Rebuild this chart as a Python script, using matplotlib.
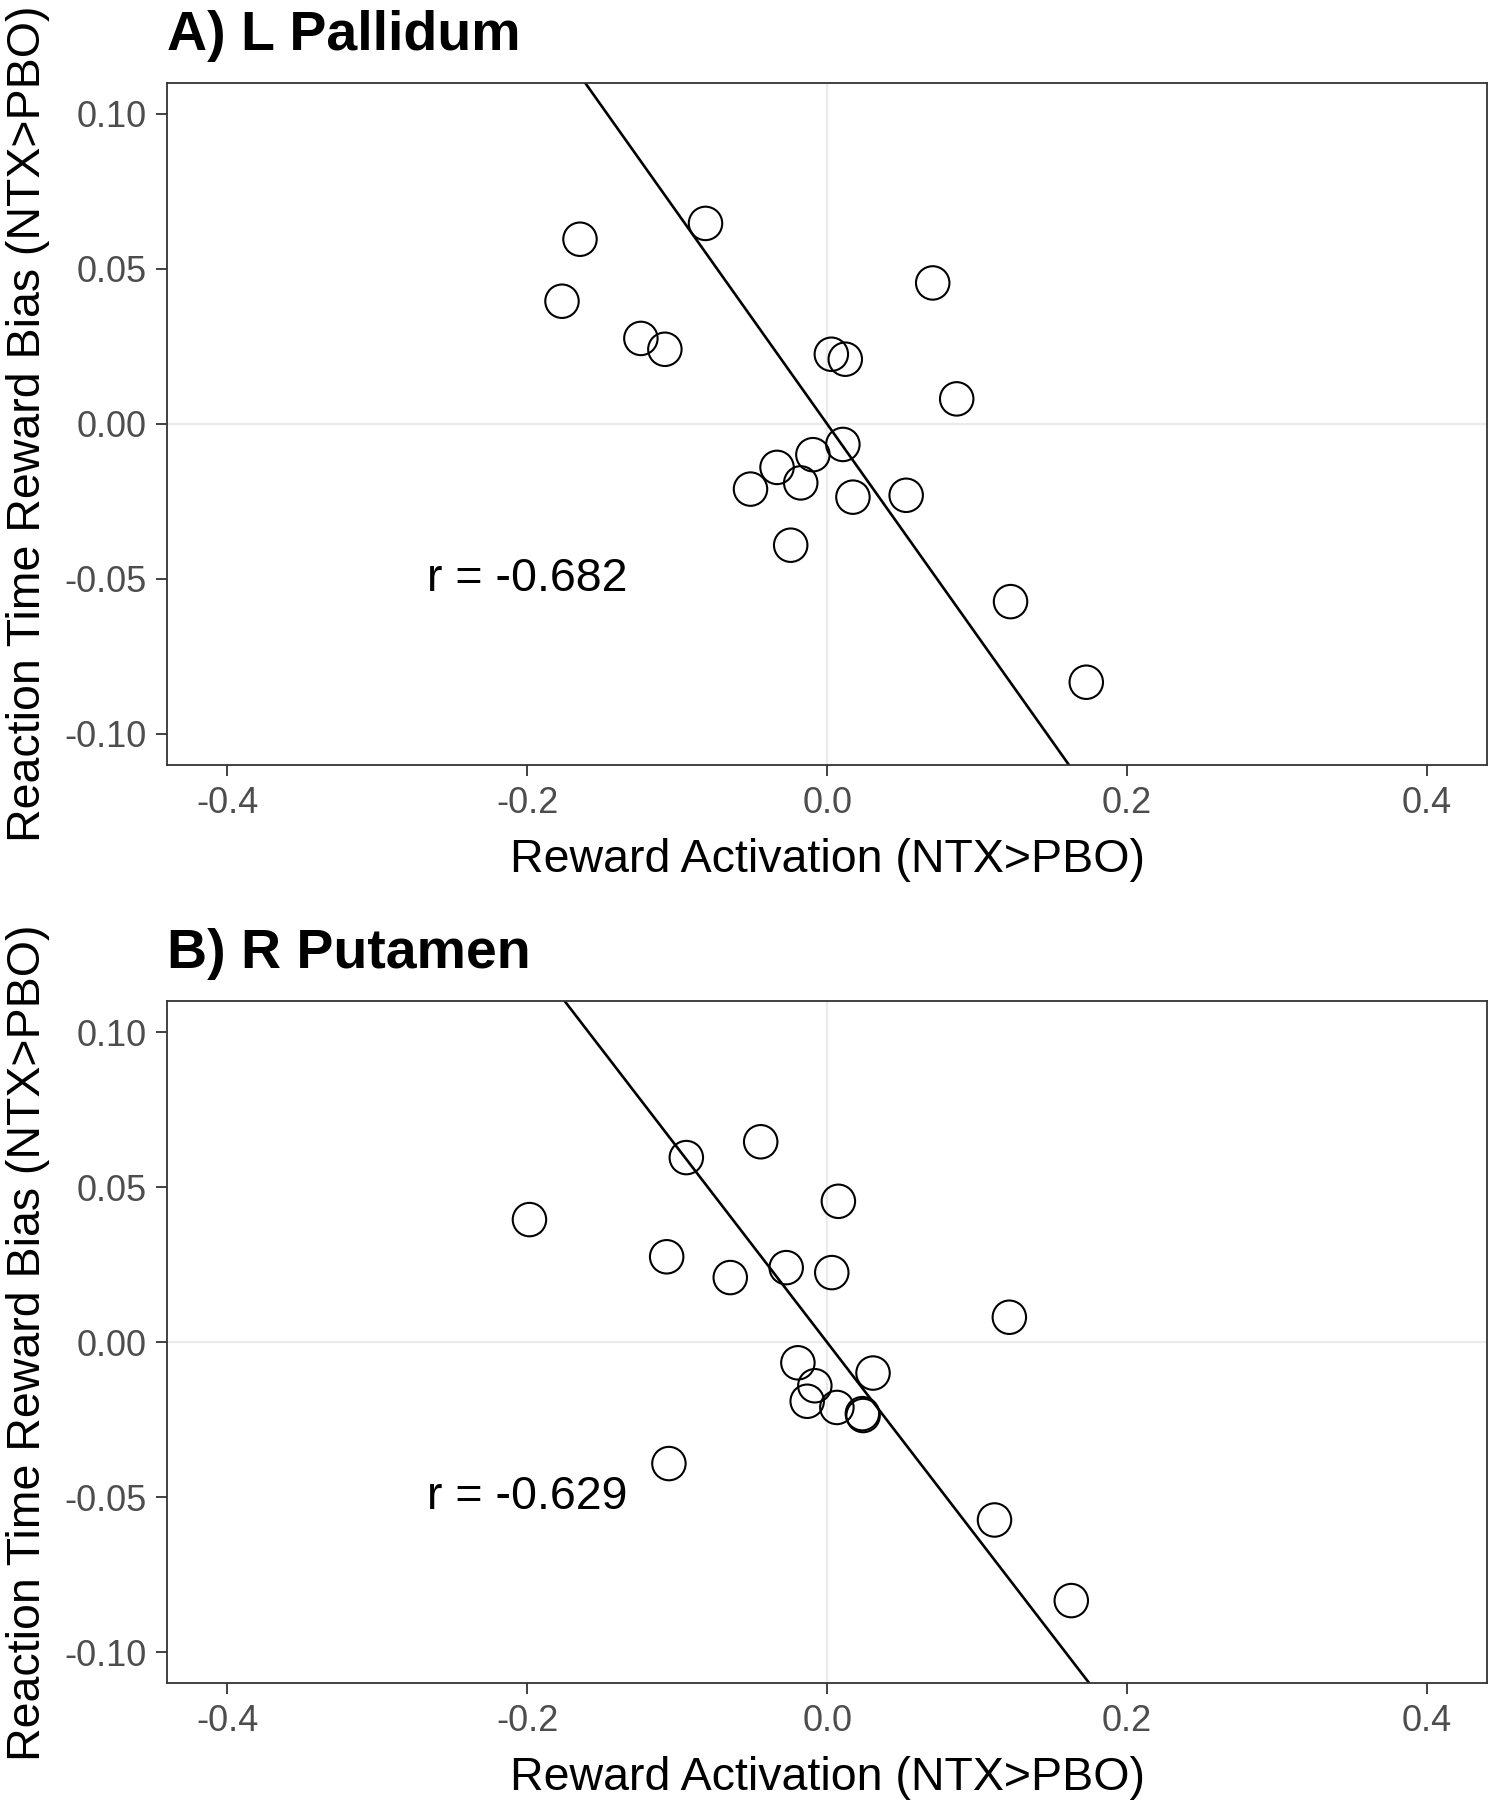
import matplotlib
matplotlib.use('Agg')
import matplotlib.pyplot as plt
import numpy as np

plt.rcParams['font.family'] = ['Liberation Sans', 'DejaVu Sans']

# reaction time reward bias (NTX>PBO), same subjects in both panels
rt_bias = [0.0647, 0.0596, 0.0455, 0.0396, 0.0276, 0.0241, 0.0225, 0.0209, 0.0081,
           -0.0066, -0.0099, -0.0140, -0.0190, -0.0210, -0.0230, -0.0236, -0.0391,
           -0.0573, -0.0833]

# reward activation (NTX>PBO)
act_pallidum = [-0.0811, -0.1648, 0.0704, -0.1768, -0.1242, -0.1082, 0.0028, 0.0121, 0.0864,
                0.0105, -0.0095, -0.0334, -0.0176, -0.0511, 0.0527, 0.0172, -0.0243,
                0.1223, 0.1728]
act_putamen = [-0.0443, -0.0939, 0.0075, -0.1985, -0.1070, -0.0273, 0.0031, -0.0646, 0.1215,
               -0.0195, 0.0306, -0.0082, -0.0133, 0.0065, 0.0235, 0.0240, -0.1055,
               0.1116, 0.1628]

titles = ['A) L Pallidum', 'B) R Putamen']
r_vals = [-0.682, -0.629]
xticks = [-0.4, -0.2, 0.0, 0.2, 0.4]
yticks = [-0.10, -0.05, 0.00, 0.05, 0.10]

fig = plt.figure(figsize=(14.91, 18), dpi=100)

panels = [(0.575, act_pallidum), (0.0648, act_putamen)]
for i, (bottom, xs) in enumerate(panels):
    ax = fig.add_axes([0.1122, bottom, 0.8851, 0.3789])
    ax.axvline(0, color='#EBEBEB', lw=1.6, zorder=0)
    ax.axhline(0, color='#EBEBEB', lw=1.6, zorder=0)

    # line through origin with slope r
    xl = np.array([-0.5, 0.5])
    ax.plot(xl, r_vals[i] * xl, color='black', lw=1.9, zorder=2)

    ax.scatter(xs, rt_bias, s=580, facecolors='none', edgecolors='black',
               linewidths=1.5, zorder=3)

    ax.text(-0.2, -0.05, 'r = %.3f' % r_vals[i], ha='center', va='center', fontsize=33.5)

    ax.set_xlim(-0.44, 0.44)
    ax.set_ylim(-0.11, 0.11)
    ax.set_xticks(xticks)
    ax.set_xticklabels(['%.1f' % t for t in xticks])
    ax.set_yticks(yticks)
    ax.set_yticklabels(['%.2f' % t for t in yticks])
    ax.tick_params(length=8, width=1.3, color='#333333', labelcolor='#4D4D4D',
                   labelsize=26, pad=7)
    for sp in ax.spines.values():
        sp.set_color('#333333')
        sp.set_linewidth(1.3)

    ax.set_xlabel('Reward Activation (NTX>PBO)', fontsize=33.5, labelpad=12)
    ax.set_ylabel('Reaction Time Reward Bias (NTX>PBO)', fontsize=33.5, labelpad=10)
    ax.set_title(titles[i], loc='left', fontsize=40, fontweight='bold', pad=24)

fig.savefig('out.png', dpi=100)
